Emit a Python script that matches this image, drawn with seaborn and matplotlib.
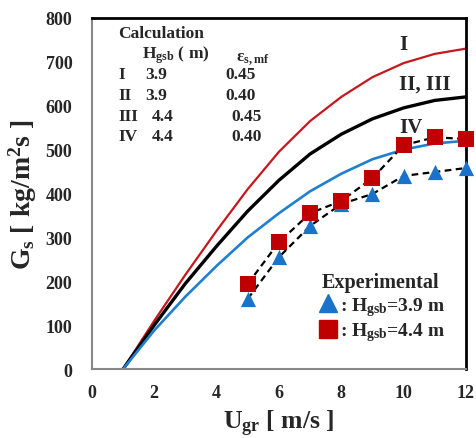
import matplotlib
matplotlib.use("Agg")
import matplotlib.pyplot as plt
import seaborn as sns
import pandas as pd
from matplotlib.lines import Line2D

# calculated curves (I, II/III, IV)
u_calc = [1, 2, 3, 4, 5, 6, 7, 8, 9, 10, 11, 12]
g_I = [0, 110, 215, 315, 410, 495, 565, 620, 665, 697, 718, 730]
g_II_III = [0, 100, 195, 280, 360, 430, 490, 535, 570, 595, 612, 620]
g_IV = [0, 88, 165, 235, 300, 355, 405, 445, 478, 500, 514, 520]

# experimental points
u_exp = [5, 6, 7, 8, 9, 10, 11, 12]
g_exp_39 = [160, 255, 326, 376, 399, 440, 449, 458]
g_exp_44 = [194, 289, 355, 383, 435, 510, 528, 524]

table_rows = [("I", "3.9", "0.45"), ("II", "3.9", "0.40"), ("III", "4.4", "0.45"), ("IV", "4.4", "0.40")]

sns.set_style("white")
plt.rcParams["font.family"] = ["Liberation Serif", "DejaVu Serif"]
plt.rcParams["font.weight"] = "bold"
plt.rcParams["mathtext.fontset"] = "custom"
plt.rcParams["mathtext.rm"] = "Liberation Serif:bold"
plt.rcParams["mathtext.it"] = "Liberation Serif:bold"
plt.rcParams["mathtext.bf"] = "Liberation Serif:bold"

RED, BLACK, BLUE = "#c8161d", "#000000", "#1f7fd0"
SQ_RED, TRI_BLUE = "#c00000", "#1a73c8"

fig = plt.figure(figsize=(4.76, 4.39), dpi=100)
ax = fig.add_axes([0.193, 0.157, 0.786, 0.800])

calc = pd.DataFrame({"u": u_calc, "I": g_I, "II": g_II_III, "IV": g_IV})
sns.lineplot(data=calc, x="u", y="I", color=RED, lw=1.6, ax=ax)
sns.lineplot(data=calc, x="u", y="II", color=BLACK, lw=2.4, ax=ax)
sns.lineplot(data=calc, x="u", y="IV", color=BLUE, lw=1.9, ax=ax)

exp = pd.DataFrame({"u": u_exp, "h39": g_exp_39, "h44": g_exp_44})
sns.lineplot(data=exp, x="u", y="h39", color="black", lw=1.6, ls=(0, (3, 2)), ax=ax)
sns.lineplot(data=exp, x="u", y="h44", color="black", lw=1.6, ls=(0, (3, 2)), ax=ax)
sns.scatterplot(data=exp, x="u", y="h39", marker="^", s=120, color=TRI_BLUE, linewidth=0, ax=ax, zorder=5, clip_on=False)
sns.scatterplot(data=exp, x="u", y="h44", marker="s", s=120, color=SQ_RED, linewidth=0, ax=ax, zorder=6, clip_on=False)

ax.set_xlim(0, 12); ax.set_ylim(0, 800)
ax.set_xticks(range(0, 13, 2)); ax.set_yticks(range(0, 801, 100))
ax.tick_params(direction="in", length=4, color="#888888", labelsize=13)
ax.tick_params(axis="x", pad=11)
ax.tick_params(axis="y", pad=14)
for lab in ax.get_xticklabels() + ax.get_yticklabels(): lab.set_fontweight("bold")
for s in ("left", "bottom"): ax.spines[s].set_color("#888888"); ax.spines[s].set_linewidth(1.5)
for s in ("top", "right"): ax.spines[s].set_color("black"); ax.spines[s].set_linewidth(2)
ax.set_xlabel(r"U$_{gr}$ [ m/s ]", fontsize=18.5, fontweight="bold")
ax.set_ylabel(r"G$_s$ [ kg/m$^2$s ]", fontsize=20, fontweight="bold")
ax.xaxis.set_label_coords(0.5, -0.11)
ax.yaxis.set_label_coords(-0.14, 0.5)

# curve labels
ax.text(9.85, 740, "I", fontsize=15, fontweight="bold", va="center")
ax.text(9.85, 650, "II, III", fontsize=15, fontweight="bold", va="center")
ax.text(9.85, 551, "IV", fontsize=15, fontweight="bold", va="center")

# calculation table
tk = dict(transform=ax.transAxes, fontsize=12.5, fontweight="bold", va="center")
ax.text(0.07, 0.958, "Calculation", **tk)
ax.text(0.134, 0.897, r"H$_{gsb}$ ( m)", **tk)
ax.text(0.385, 0.885, r"$\varepsilon_{s,mf}$", **tk)
for i, (r, h, e) in enumerate(table_rows):
    y = 0.840 - i * 0.059
    off = 0.018 if r in ("III", "IV") else 0
    ax.text(0.07, y, r, **tk)
    ax.text(0.142 + off, y, h, **tk)
    ax.text(0.356 + off, y, e, **tk)

handles = [Line2D([], [], marker="^", ls="none", color=TRI_BLUE, markersize=13),
           Line2D([], [], marker="s", ls="none", color=SQ_RED, markersize=13)]
leg = ax.legend(handles, [r": H$_{gsb}$=3.9 m", r": H$_{gsb}$=4.4 m"], title="Experimental",
                loc="lower right", bbox_to_anchor=(0.975, 0.04), frameon=False, fontsize=14,
                handletextpad=0.0, labelspacing=0.15, borderaxespad=0.2, handlelength=1.2)
leg.get_title().set_fontweight("bold"); leg.get_title().set_fontsize(14.5)
leg._legend_box.sep = 2

fig.savefig("out.png", dpi=100)
